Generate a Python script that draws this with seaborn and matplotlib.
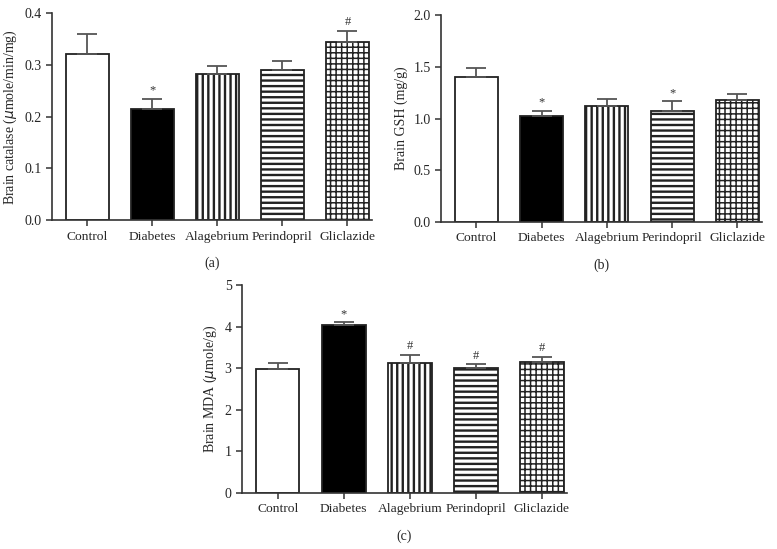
import matplotlib
matplotlib.use("Agg")
import matplotlib.pyplot as plt
import numpy as np
import pandas as pd
import seaborn as sns

# Group names shared by all three panels
groups = ["Control", "Diabetes", "Alagebrium", "Perindopril", "Gliclazide"]

# (a) Brain catalase
catalase_mean = [0.322, 0.215, 0.283, 0.290, 0.345]
catalase_err = [0.038, 0.020, 0.014, 0.017, 0.021]
catalase_sig = ["", "*", "", "", "#"]

# (b) Brain GSH
gsh_mean = [1.40, 1.02, 1.12, 1.07, 1.175]
gsh_err = [0.09, 0.05, 0.065, 0.095, 0.065]
gsh_sig = ["", "*", "", "*", ""]

# (c) Brain MDA
mda_mean = [2.97, 4.03, 3.12, 3.00, 3.15]
mda_err = [0.15, 0.07, 0.20, 0.10, 0.13]
mda_sig = ["", "*", "#", "#", "#"]

sns.set_style("ticks")
plt.rcParams["font.family"] = ["Liberation Serif", "DejaVu Serif"]
plt.rcParams["hatch.linewidth"] = 1.6
plt.rcParams["hatch.color"] = "black"

fills = ["white", "black", "white", "white", "white"]
hatches = [None, None, "|||", "---", "+++"]
hatch_lw = [1.6, 1.6, 1.7, 1.7, 1.1]


def draw_panel(ax, means, errs, sig, ylabel, ylim, yticks, yfmt, panel):
    df = pd.DataFrame({"group": groups, "value": means})
    sns.barplot(data=df, x="group", y="value", ax=ax, width=0.66,
                color="white", edgecolor="#222222", linewidth=1.3)
    for patch, fc, h, hl in zip(ax.patches, fills, hatches, hatch_lw):
        patch.set_facecolor(fc)
        if h:
            patch.set_hatch(h)
            if hasattr(patch, "set_hatch_linewidth"):
                patch.set_hatch_linewidth(hl)
    xs = np.arange(len(groups))
    ax.errorbar(xs, means, yerr=[np.zeros(len(means)), errs], fmt="none",
                ecolor="#555555", elinewidth=1.3, capsize=7.5, capthick=1.3,
                zorder=1)
    span = ylim[1] - ylim[0]
    for x, m, e, s in zip(xs, means, errs, sig):
        if s:
            ax.text(x, m + e + span * 0.012, s, ha="center", va="bottom",
                    fontsize=9, color="#333333")
    ax.set_ylim(*ylim)
    ax.set_yticks(yticks)
    ax.set_yticklabels([yfmt.format(t) for t in yticks])
    ax.set_xlim(-0.54, 4.38)
    ax.set_xlabel(panel, fontsize=10, labelpad=10)
    ax.set_ylabel(ylabel, fontsize=10)
    ax.tick_params(axis="both", labelsize=10, direction="out", length=4,
                   width=1.1, color="#333333")
    ax.tick_params(axis="x", labelsize=9.7)
    for side in ["left", "bottom"]:
        ax.spines[side].set_linewidth(1.2)
        ax.spines[side].set_color("#333333")
    sns.despine(ax=ax)


fig = plt.figure(figsize=(7.77, 5.49), dpi=100)
ax_a = fig.add_axes([0.0669, 0.599, 0.4121, 0.377])
ax_b = fig.add_axes([0.5676, 0.5956, 0.4134, 0.3771])
ax_c = fig.add_axes([0.3115, 0.102, 0.4182, 0.379])

draw_panel(ax_a, catalase_mean, catalase_err, catalase_sig,
           r"Brain catalase ($\mu$mole/min/mg)", (0, 0.4),
           [0.0, 0.1, 0.2, 0.3, 0.4], "{:.1f}", "(a)")
draw_panel(ax_b, gsh_mean, gsh_err, gsh_sig,
           "Brain GSH (mg/g)", (0, 2.0),
           [0.0, 0.5, 1.0, 1.5, 2.0], "{:.1f}", "(b)")
draw_panel(ax_c, mda_mean, mda_err, mda_sig,
           r"Brain MDA ($\mu$mole/g)", (0, 5),
           [0, 1, 2, 3, 4, 5], "{:d}", "(c)")

fig.savefig("out.png", dpi=100)
